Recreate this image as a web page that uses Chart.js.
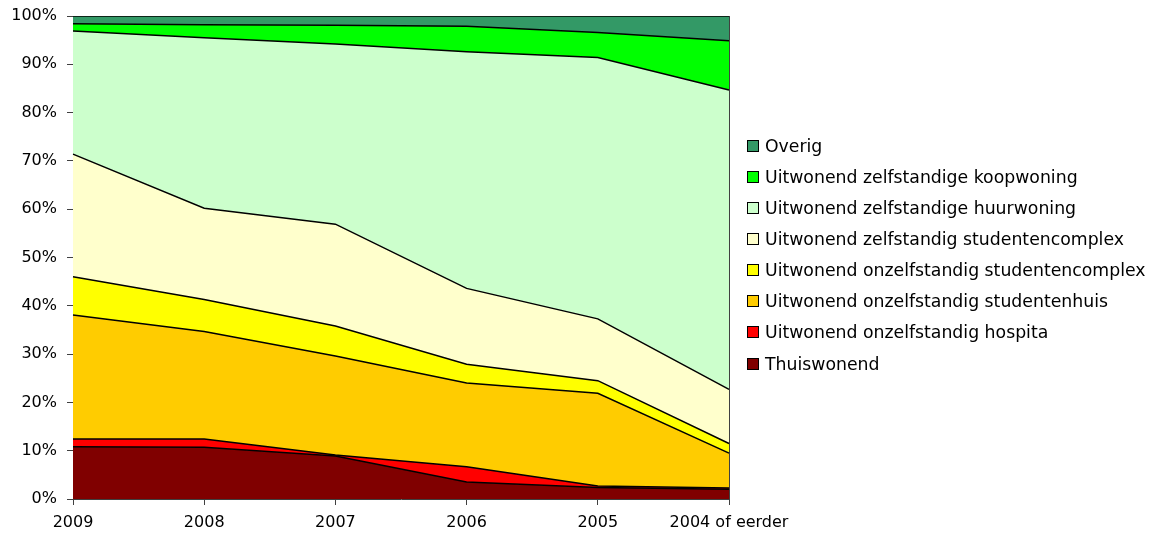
<!DOCTYPE html>
<html><head><meta charset="utf-8">
<script src="https://cdn.jsdelivr.net/npm/chart.js@4"></script>
<style>
html,body{margin:0;padding:0;background:#fff;}
#wrap{position:relative;width:1152px;height:533px;}
#c{display:block;}
#legend{position:absolute;left:747px;top:130px;font-family:"DejaVu Sans",Verdana,sans-serif;font-size:17.3px;color:#000;}
.row{height:31.15px;display:flex;align-items:center;white-space:nowrap;}
.box{width:12px;height:12px;border:1px solid #000;box-sizing:border-box;margin-right:6px;flex:none;}
</style></head>
<body><div id="wrap"><canvas id="c" width="1152" height="533"></canvas><div id="legend"></div></div>
<script>
const categories = ['2009', '2008', '2007', '2006', '2005', '2004 of eerder'];
const yTickLabels = ['0%', '10%', '20%', '30%', '40%', '50%', '60%', '70%', '80%', '90%', '100%'];

const thuiswonend       = [10.8, 10.7, 8.9, 3.5, 2.4, 2.0];
const hospita           = [1.6, 1.7, 0.2, 3.2, 0.3, 0.3];
const studentenhuis     = [25.7, 22.3, 20.5, 17.3, 19.2, 7.2];
const onzelfComplex     = [7.9, 6.6, 6.2, 3.9, 2.6, 2.0];
const zelfComplex       = [25.4, 18.9, 21.1, 15.7, 12.8, 11.2];
const huurwoning        = [25.5, 35.3, 37.3, 49.0, 54.1, 62.0];
const koopwoning        = [1.5, 2.7, 3.9, 5.3, 5.2, 10.2];
const overig            = [1.6, 1.8, 1.9, 2.1, 3.4, 5.1];

const seriesNames = [
  'Thuiswonend',
  'Uitwonend onzelfstandig hospita',
  'Uitwonend onzelfstandig studentenhuis',
  'Uitwonend onzelfstandig studentencomplex',
  'Uitwonend zelfstandig studentencomplex',
  'Uitwonend zelfstandige huurwoning',
  'Uitwonend zelfstandige koopwoning',
  'Overig'
];
const seriesValues = [thuiswonend, hospita, studentenhuis, onzelfComplex, zelfComplex, huurwoning, koopwoning, overig];
const seriesColors = ['#800000', '#FF0000', '#FFCC00', '#FFFF00', '#FFFFCC', '#CCFFCC', '#00FF00', '#339966'];

const datasets = seriesNames.map((name, i) => ({
  label: name,
  data: seriesValues[i],
  backgroundColor: seriesColors[i],
  borderColor: '#000',
  borderWidth: 1.5,
  pointRadius: 0,
  tension: 0,
  fill: i === 0 ? 'origin' : '-1'
}));

const axisFont = {family: '"DejaVu Sans", Verdana, sans-serif', size: 16};
const axisColor = '#404040';

new Chart(document.getElementById('c'), {
  type: 'line',
  data: {labels: categories, datasets},
  options: {
    responsive: false,
    animation: false,
    devicePixelRatio: 1,
    layout: {padding: {top: 16, right: 423, bottom: 0, left: 0}},
    plugins: {legend: {display: false}, tooltip: {enabled: false}},
    scales: {
      x: {
        type: 'category',
        offset: false,
        grid: {display: true, drawOnChartArea: false, drawTicks: true, tickLength: 6, color: axisColor},
        border: {display: true, color: axisColor},
        ticks: {font: axisFont, color: '#000', maxRotation: 0, autoSkip: false, padding: 8},
        afterFit: s => { s.height = 34; }
      },
      y: {
        stacked: true,
        min: 0, max: 100,
        grid: {display: true, drawOnChartArea: false, drawTicks: true, tickLength: 6, color: axisColor},
        border: {display: true, color: axisColor},
        ticks: {font: axisFont, color: '#000', stepSize: 10, padding: 10,
          callback: (v) => yTickLabels[Math.round(v / 10)]},
        afterFit: s => { s.width = 73; s.paddingTop = 0; s.paddingBottom = 0; }
      },
      yr: {
        position: 'right',
        min: 0, max: 100,
        grid: {display: false},
        border: {display: true, color: axisColor},
        ticks: {display: false},
        afterFit: s => { s.width = 0; }
      }
    }
  }
});

const legend = document.getElementById('legend');
for (let i = seriesNames.length - 1; i >= 0; i--) {
  const row = document.createElement('div');
  row.className = 'row';
  const box = document.createElement('span');
  box.className = 'box';
  box.style.background = seriesColors[i];
  const txt = document.createElement('span');
  txt.textContent = seriesNames[i];
  row.appendChild(box); row.appendChild(txt);
  legend.appendChild(row);
}
</script>
</body></html>
